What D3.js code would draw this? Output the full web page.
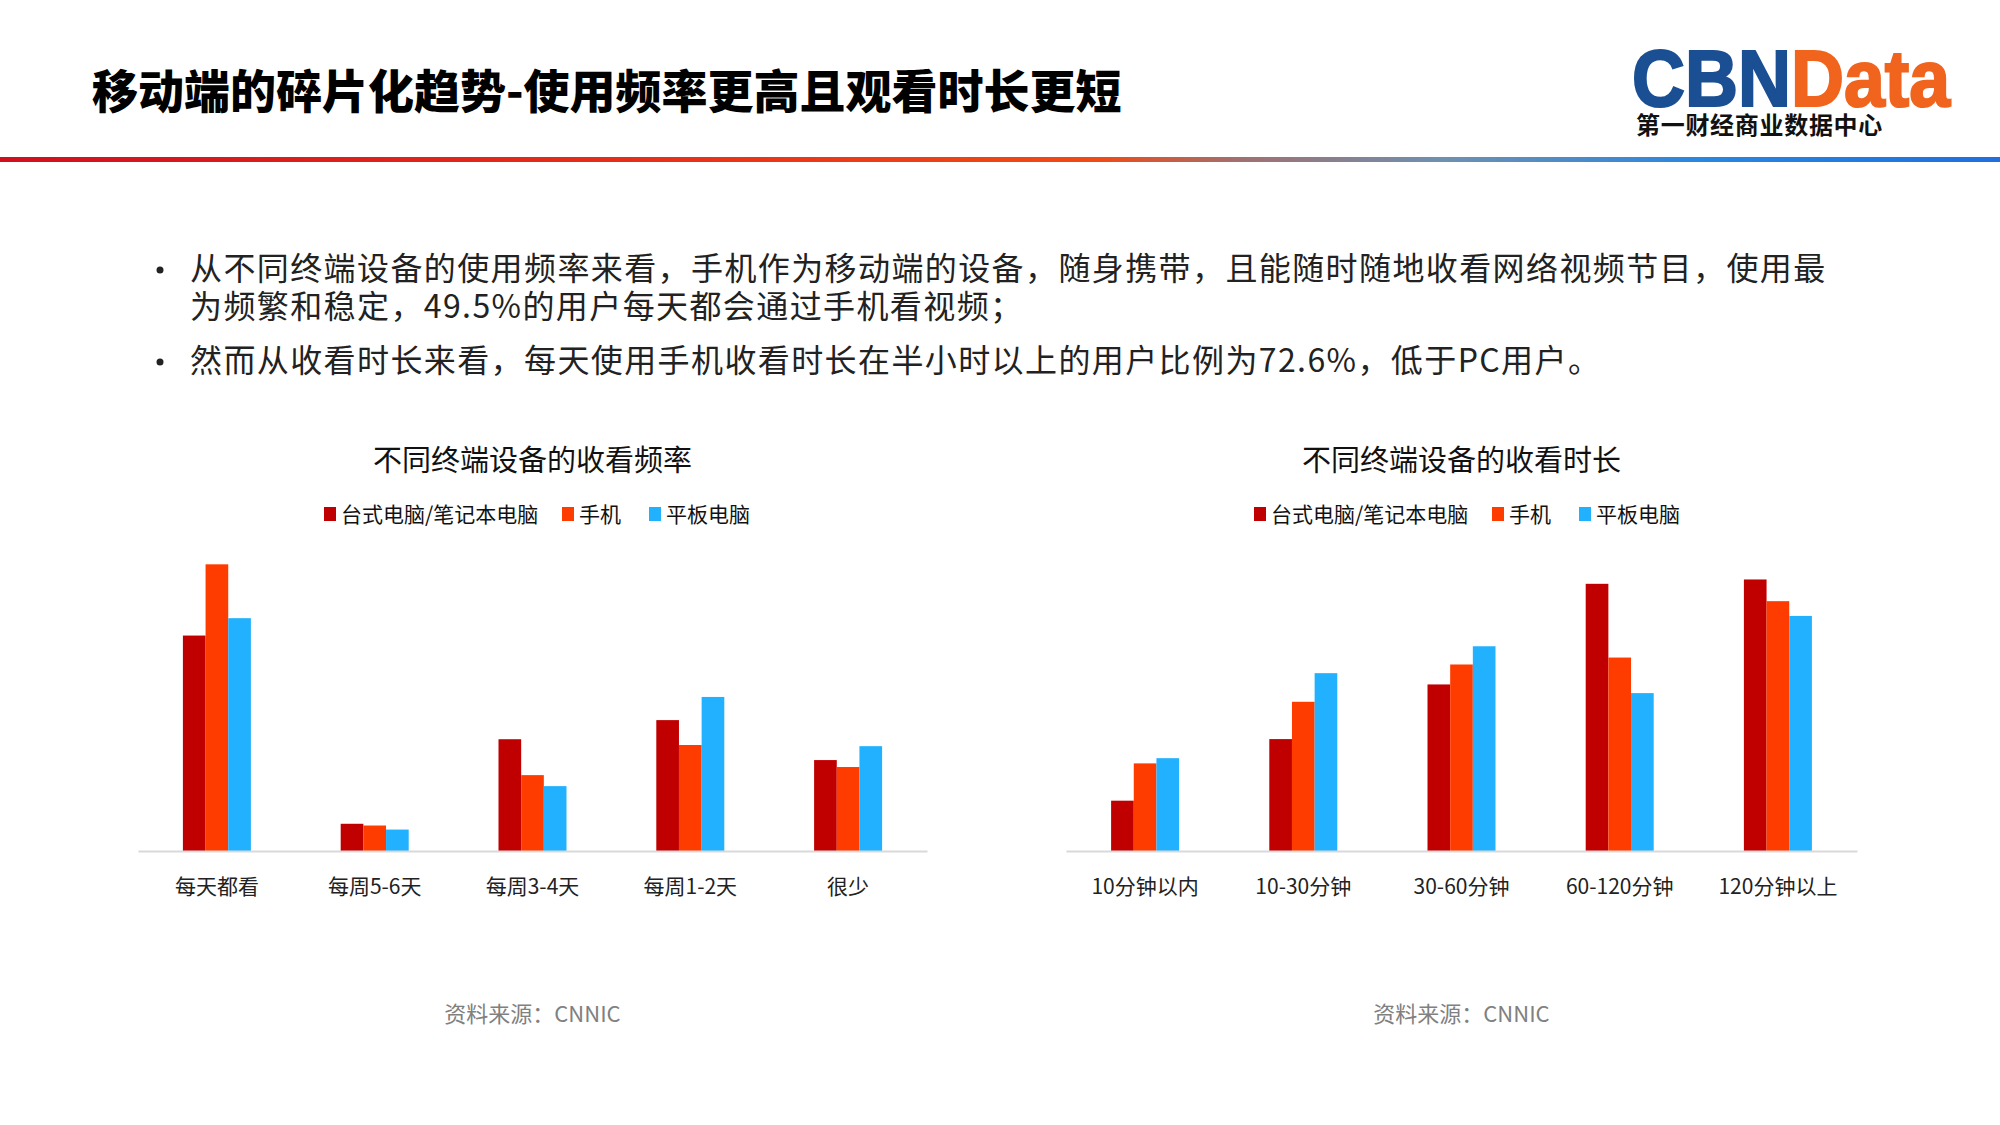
<!DOCTYPE html>
<html>
<head>
<meta charset="utf-8">
<script src="https://cdn.jsdelivr.net/npm/d3@7"></script>
<style>
  html, body { margin: 0; padding: 0; background: #fff; }
  svg { display: block; }
  text { font-family: "Noto Sans CJK SC", "Noto Sans", sans-serif; }
</style>
</head>
<body>
<svg id="chart" width="2000" height="1125"></svg>
<script>
// ---------- data ----------
const seriesNames = ["台式电脑/笔记本电脑", "手机", "平板电脑"];
const seriesColors = ["#c00000", "#ff3c00", "#22b1ff"];

const freqCategories = ["每天都看", "每周5-6天", "每周3-4天", "每周1-2天", "很少"];
const freqPC     = [37.2, 4.7, 19.3, 22.6, 15.7];
const freqMobile = [49.5, 4.4, 13.1, 18.3, 14.5];
const freqTablet = [40.2, 3.7, 11.2, 26.6, 18.1];

const durCategories = ["10分钟以内", "10-30分钟", "30-60分钟", "60-120分钟", "120分钟以上"];
const durPC     = [5.8, 12.9, 19.2, 30.8, 31.3];
const durMobile = [10.1, 17.2, 21.5, 22.3, 28.8];
const durTablet = [10.7, 20.5, 23.6, 18.2, 27.1];

const titleText = "移动端的碎片化趋势-使用频率更高且观看时长更短";
const bullets = [
  ["从不同终端设备的使用频率来看，手机作为移动端的设备，随身携带，且能随时随地收看网络视频节目，使用最",
   "为频繁和稳定，49.5%的用户每天都会通过手机看视频；"],
  ["然而从收看时长来看，每天使用手机收看时长在半小时以上的用户比例为72.6%，低于PC用户。"]
];
const sourceText = "资料来源：CNNIC";

// ---------- drawing ----------
const svg = d3.select("#chart");

// header gradient line
const defs = svg.append("defs");
const grad = defs.append("linearGradient").attr("id", "hdr").attr("x1", "0").attr("x2", "1");
[["0%", "#d0101f"], ["35%", "#e83218"], ["55%", "#f04a16"], ["62%", "#a07070"], ["72%", "#6f90b0"], ["85%", "#2a86e0"], ["100%", "#1f6fe0"]]
  .forEach(([o, c]) => grad.append("stop").attr("offset", o).attr("stop-color", c));
svg.append("rect").attr("x", 0).attr("y", 157).attr("width", 2000).attr("height", 5).attr("fill", "url(#hdr)");

// title
svg.append("text").attr("x", 92).attr("y", 108)
  .attr("font-size", 46).attr("font-weight", 900).attr("fill", "#000")
  .text(titleText);

// logo (one text block: wordmark + Chinese subtitle)
const logo = svg.append("text");
const mark = logo.append("tspan").attr("x", 1632).attr("y", 106)
  .attr("font-family", "'Liberation Sans', Arial, sans-serif")
  .attr("font-size", 80).attr("font-weight", 700)
  .attr("stroke-width", 2.2)
  .attr("textLength", 318).attr("lengthAdjust", "spacingAndGlyphs");
mark.append("tspan").attr("fill", "#1b4f93").attr("stroke", "#1b4f93").text("CBN");
mark.append("tspan").attr("fill", "#f0641e").attr("stroke", "#f0641e").text("Data");
logo.append("tspan").attr("x", 1636).attr("y", 134)
  .attr("font-size", 24).attr("font-weight", 600).attr("fill", "#111")
  .attr("letter-spacing", 0.7)
  .text("第一财经商业数据中心");

// bullets
const bulletTops = [280, 372];
bullets.forEach((lines, i) => {
  svg.append("circle").attr("cx", 160).attr("cy", bulletTops[i] - 10).attr("r", 3.5).attr("fill", "#222");
  const t = svg.append("text").attr("font-size", 32).attr("letter-spacing", 1.4).attr("fill", "#222");
  lines.forEach((ln, j) => {
    t.append("tspan").attr("x", 190).attr("y", bulletTops[i] + j * 38).text(ln);
  });
});

function drawChart(opts) {
  const { cats, values, x0, x1, yTop, yMax, title, legendX } = opts;
  const baseY = 851;
  const g = svg.append("g");

  const x = d3.scaleBand().domain(cats).range([x0, x1]).paddingInner(0).paddingOuter(0);
  const groupW = 68;
  const xs = d3.scaleBand().domain(seriesNames)
    .range([x.bandwidth() / 2 - groupW / 2, x.bandwidth() / 2 + groupW / 2]);
  const y = d3.scaleLinear().domain([0, yMax]).range([baseY, yTop]);

  // title
  g.append("text").attr("x", (x0 + x1) / 2).attr("y", 471)
    .attr("text-anchor", "middle").attr("font-size", 29).attr("fill", "#111")
    .text(title);

  // legend
  legendX.forEach((sq, i) => {
    g.append("rect").attr("x", sq).attr("y", 507).attr("width", 12).attr("height", 14)
      .attr("fill", seriesColors[i]);
    g.append("text").attr("x", sq + 17).attr("y", 522)
      .attr("font-size", 21).attr("fill", "#111").text(seriesNames[i]);
  });

  // bars
  cats.forEach((c, ci) => {
    seriesNames.forEach((s, si) => {
      const v = values[si][ci];
      g.append("rect")
        .attr("x", x(c) + xs(s))
        .attr("y", y(v))
        .attr("width", xs.bandwidth())
        .attr("height", baseY - y(v))
        .attr("fill", seriesColors[si]);
    });
  });

  // axis
  const ax = g.append("g").attr("transform", `translate(0,${baseY})`)
    .call(d3.axisBottom(x).tickSize(0).tickSizeOuter(0).tickPadding(28));
  ax.select(".domain").attr("stroke", "#d9d9d9").attr("stroke-width", 2);
  ax.selectAll("text").attr("font-size", 21).attr("fill", "#222")
    .attr("font-family", "'Noto Sans CJK SC', sans-serif");

  // source
  g.append("text").attr("x", (x0 + x1) / 2).attr("y", 1022)
    .attr("text-anchor", "middle").attr("font-size", 22).attr("fill", "#808080")
    .text(sourceText);
}

drawChart({
  cats: freqCategories,
  values: [freqPC, freqMobile, freqTablet],
  x0: 138, x1: 927, yTop: 503.5, yMax: 60,
  title: "不同终端设备的收看频率",
  legendX: [324, 562, 649]
});
drawChart({
  cats: durCategories,
  values: [durPC, durMobile, durTablet],
  x0: 1066, x1: 1857, yTop: 504, yMax: 40,
  title: "不同终端设备的收看时长",
  legendX: [1254, 1492, 1579]
});
</script>
</body>
</html>
